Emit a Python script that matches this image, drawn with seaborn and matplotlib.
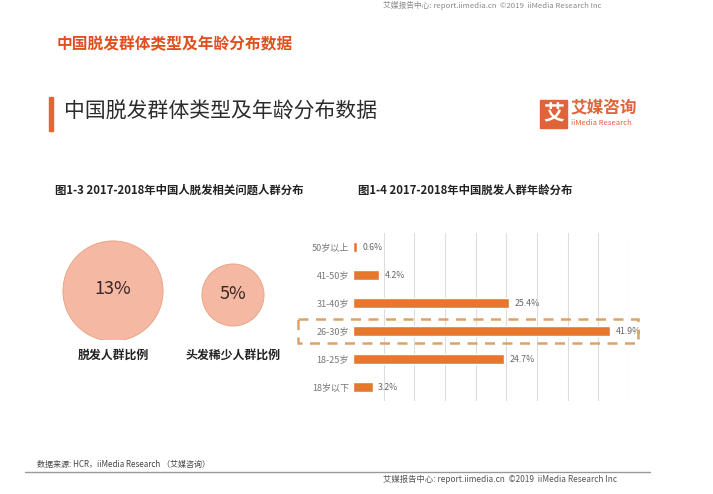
import matplotlib
matplotlib.use('Agg')
import matplotlib.pyplot as plt
import seaborn as sns
import pandas as pd
from matplotlib.patches import Rectangle

# data
circle_labels = ['脱发人群比例', '头发稀少人群比例']
circle_values = [13, 5]
age_groups = ['50岁以上', '41-50岁', '31-40岁', '26-30岁', '18-25岁', '18岁以下']
age_share = [0.6, 4.2, 25.4, 41.9, 24.7, 3.2]
highlight = '26-30岁'

sns.set_theme(style='white')
plt.rcParams['font.family'] = ['Noto Sans CJK SC', 'DejaVu Sans']

W, H = 713, 494
fig = plt.figure(figsize=(W / 100, H / 100), dpi=100)
fig.patch.set_facecolor('white')


def fx(px):
    return px / W


def fy(py):
    return 1 - py / H


orange = '#E8772E'
red_title = '#E0501E'
footer_text = '艾媒报告中心: report.iimedia.cn  ©2019  iiMedia Research Inc'

# header texts
fig.text(fx(383), fy(5), footer_text, fontsize=5.6, color='#8a8a8a', va='center')
fig.text(fx(57), fy(44), '中国脱发群体类型及年龄分布数据', fontsize=11.3, fontweight='bold',
         color=red_title, va='center')
fig.add_artist(Rectangle((fx(49), fy(131)), fx(4), (131 - 97) / H, color='#E8652A',
                         transform=fig.transFigure))
fig.text(fx(64), fy(112), '中国脱发群体类型及年龄分布数据', fontsize=15, color='#2b2b2b', va='center')

# logo
fig.add_artist(Rectangle((fx(540), fy(128)), fx(27), 28 / H, color='#E0643A',
                         transform=fig.transFigure))
fig.text(fx(553.5), fy(114), '艾', fontsize=15, fontweight='bold', color='white',
         ha='center', va='center')
fig.text(fx(570), fy(108), '艾媒咨询', fontsize=12, fontweight='bold', color='#E0643A', va='center')
fig.text(fx(571), fy(123), 'iiMedia Research', fontsize=5.5, color='#E0643A', va='center')

# subtitles
fig.text(fx(55), fy(190), '图1-3 2017-2018年中国人脱发相关问题人群分布', fontsize=8.2,
         fontweight='bold', color='#222222', va='center')
fig.text(fx(358), fy(190), '图1-4 2017-2018年中国脱发人群年龄分布', fontsize=8.2,
         fontweight='bold', color='#222222', va='center')

# bubble chart
ax_c = fig.add_axes([fx(53), fy(340), fx(240), 100 / H])
cdf = pd.DataFrame({'label': circle_labels, 'value': circle_values})
ax_c.scatter(range(len(cdf)), [-0.02, -0.1], s=cdf['value'] * 400, color='#F5B8A2',
             edgecolor='#E6A080', linewidth=0.6, zorder=2)
for i, v in enumerate(cdf['value']):
    ax_c.text(i, 0.02 - 0.1 * i, f'{v}%', ha='center', va='center', fontsize=13, color='#3a2626')
ax_c.set_xlim(-0.5, 1.5)
ax_c.set_ylim(-1, 1)
ax_c.set_xticks(range(len(cdf)))
ax_c.set_xticklabels(cdf['label'], fontsize=8.6, fontweight='bold', color='#222222')
ax_c.tick_params(axis='x', length=0, pad=6)
ax_c.set_yticks([])
for s in ax_c.spines.values():
    s.set_visible(False)
ax_c.patch.set_alpha(0)

# bar chart
ax = fig.add_axes([fx(353), fy(401), fx(629 - 353), (401 - 233) / H])
df = pd.DataFrame({'age': age_groups, 'share': age_share})
sns.barplot(data=df, y='age', x='share', orient='h', color=orange, saturation=1,
            width=0.36, ax=ax, zorder=3)
ax.set_xlim(0, 45)
ax.set_ylim(len(df) - 0.5, -0.5)
ax.set_xticks(range(5, 50, 5))
ax.xaxis.grid(True, color='#dddddd', linewidth=0.8)
ax.set_axisbelow(True)
ax.set_xticklabels([])
ax.set_xlabel('')
ax.set_ylabel('')
ax.tick_params(axis='y', length=0, pad=3, labelsize=6.5, labelcolor='#777777')
ax.tick_params(axis='x', length=0)
for s in ax.spines.values():
    s.set_visible(False)
ax.bar_label(ax.containers[0], labels=[f'{v}%' for v in df['share']], padding=4,
             fontsize=6.3, color='#666666')

# highlight box around one age group
hi = age_groups.index(highlight)
ppu = (629 - 353) / 45
x0 = (298 - 353) / ppu
x1 = (638 - 353) / ppu
ax.add_patch(Rectangle((x0, hi - 0.43), x1 - x0, 0.86, fill=False, edgecolor='#D9A46A',
                       linestyle=(0, (4, 3)), linewidth=1.8, clip_on=False, zorder=4))

# footer
fig.text(fx(37), fy(464), '数据来源: HCR，iiMedia Research （艾媒咨询）', fontsize=5.8,
         color='#444444', va='center')
fig.add_artist(plt.Line2D([fx(25), fx(650)], [fy(472), fy(472)], color='#999999', linewidth=1))
fig.text(fx(383), fy(479), footer_text, fontsize=6, color='#555555', va='center')

fig.savefig('out.png', dpi=100)
